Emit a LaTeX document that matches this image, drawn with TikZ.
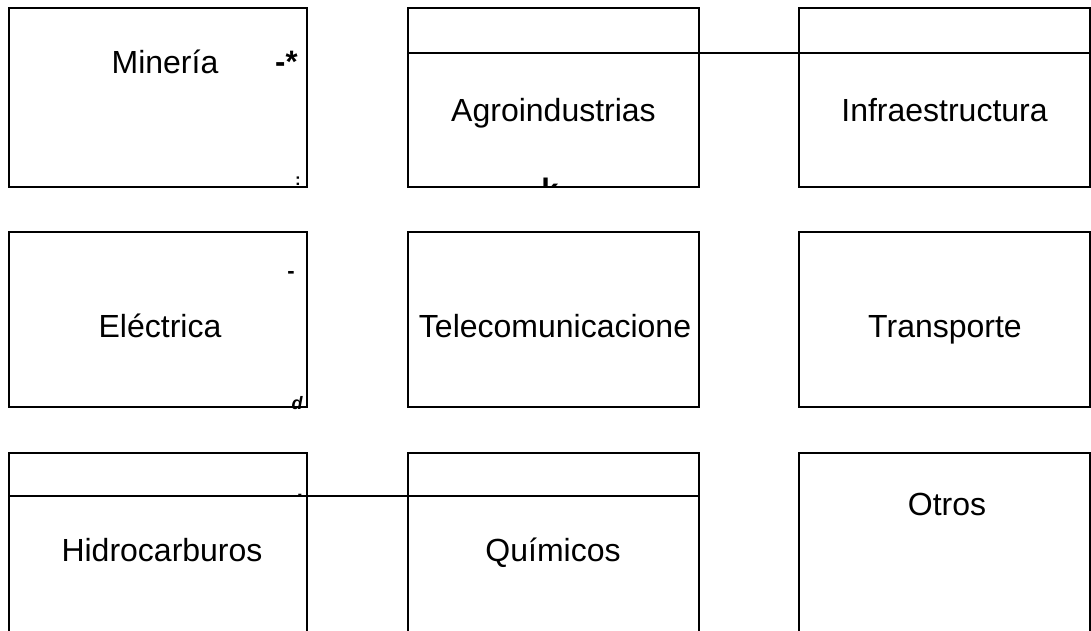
\documentclass[tikz,border=0pt]{standalone}
\usepackage{fontspec}
\setmainfont{Liberation Sans}

\begin{document}
\begin{tikzpicture}[x=1pt,y=-1pt,
    box/.style={line width=2pt},
    sector/.style={font=\fontsize{32}{38}\selectfont, anchor=base, inner sep=0pt},
    stray/.style={font=\bfseries\fontsize{#1}{#1}\selectfont, anchor=base, inner sep=0pt}]

    \useasboundingbox (0,0) rectangle (1091,630);

    % Draw the first row of boxes
    \draw[box] (9,8) rectangle (307,187);
    \draw[box] (408,8) rectangle (699,187);
    \draw[box] (799,8) rectangle (1090,187);
    \draw[box] (408,53) -- (1090,53);

    % Draw the second row of boxes
    \draw[box] (9,232) rectangle (307,407);
    \draw[box] (408,232) rectangle (699,407);
    \draw[box] (799,232) rectangle (1090,407);

    % Draw the third row of boxes (open at the bottom)
    \draw[box] (9,640) -- (9,453) -- (307,453) -- (307,640);
    \draw[box] (408,640) -- (408,453) -- (699,453) -- (699,640);
    \draw[box] (799,640) -- (799,453) -- (1090,453) -- (1090,640);
    \draw[box] (9,496) -- (699,496);

    % Label the sectors
    \node[sector] (mineria) at (165,73) {Minería};
    \node[sector] (agro) at (553.5,121) {Agroindustrias};
    \node[sector] (infra) at (944.5,121) {Infraestructura};
    \node[sector] (electrica) at (160,337) {Eléctrica};
    \node[sector] (telecom) at (555,337) {Telecomunicacione};
    \node[sector] (transporte) at (945,337) {Transporte};
    \node[sector] (hidro) at (162,561) {Hidrocarburos};
    \node[sector] (quimicos) at (553,561) {Químicos};
    \node[sector] (otros) at (947,515) {Otros};

    % Stray marks
    \node[stray=31, anchor=base west] (dashstar) at (275,72) {-*};
    \node[stray=17] (colon) at (298,185) {:};
    \node[stray=22] (dash) at (291,278) {-};
    \node[stray=18, font=\bfseries\itshape\fontsize{18}{18}\selectfont] (dmark) at (297,409) {d};
    \node[stray=22] (dot) at (300,497) {.};
    \begin{scope}
        \clip (408,150) rectangle (699,187);
        \node[stray=31] (kmark) at (550,200) {k};
    \end{scope}

\end{tikzpicture}
\end{document}
